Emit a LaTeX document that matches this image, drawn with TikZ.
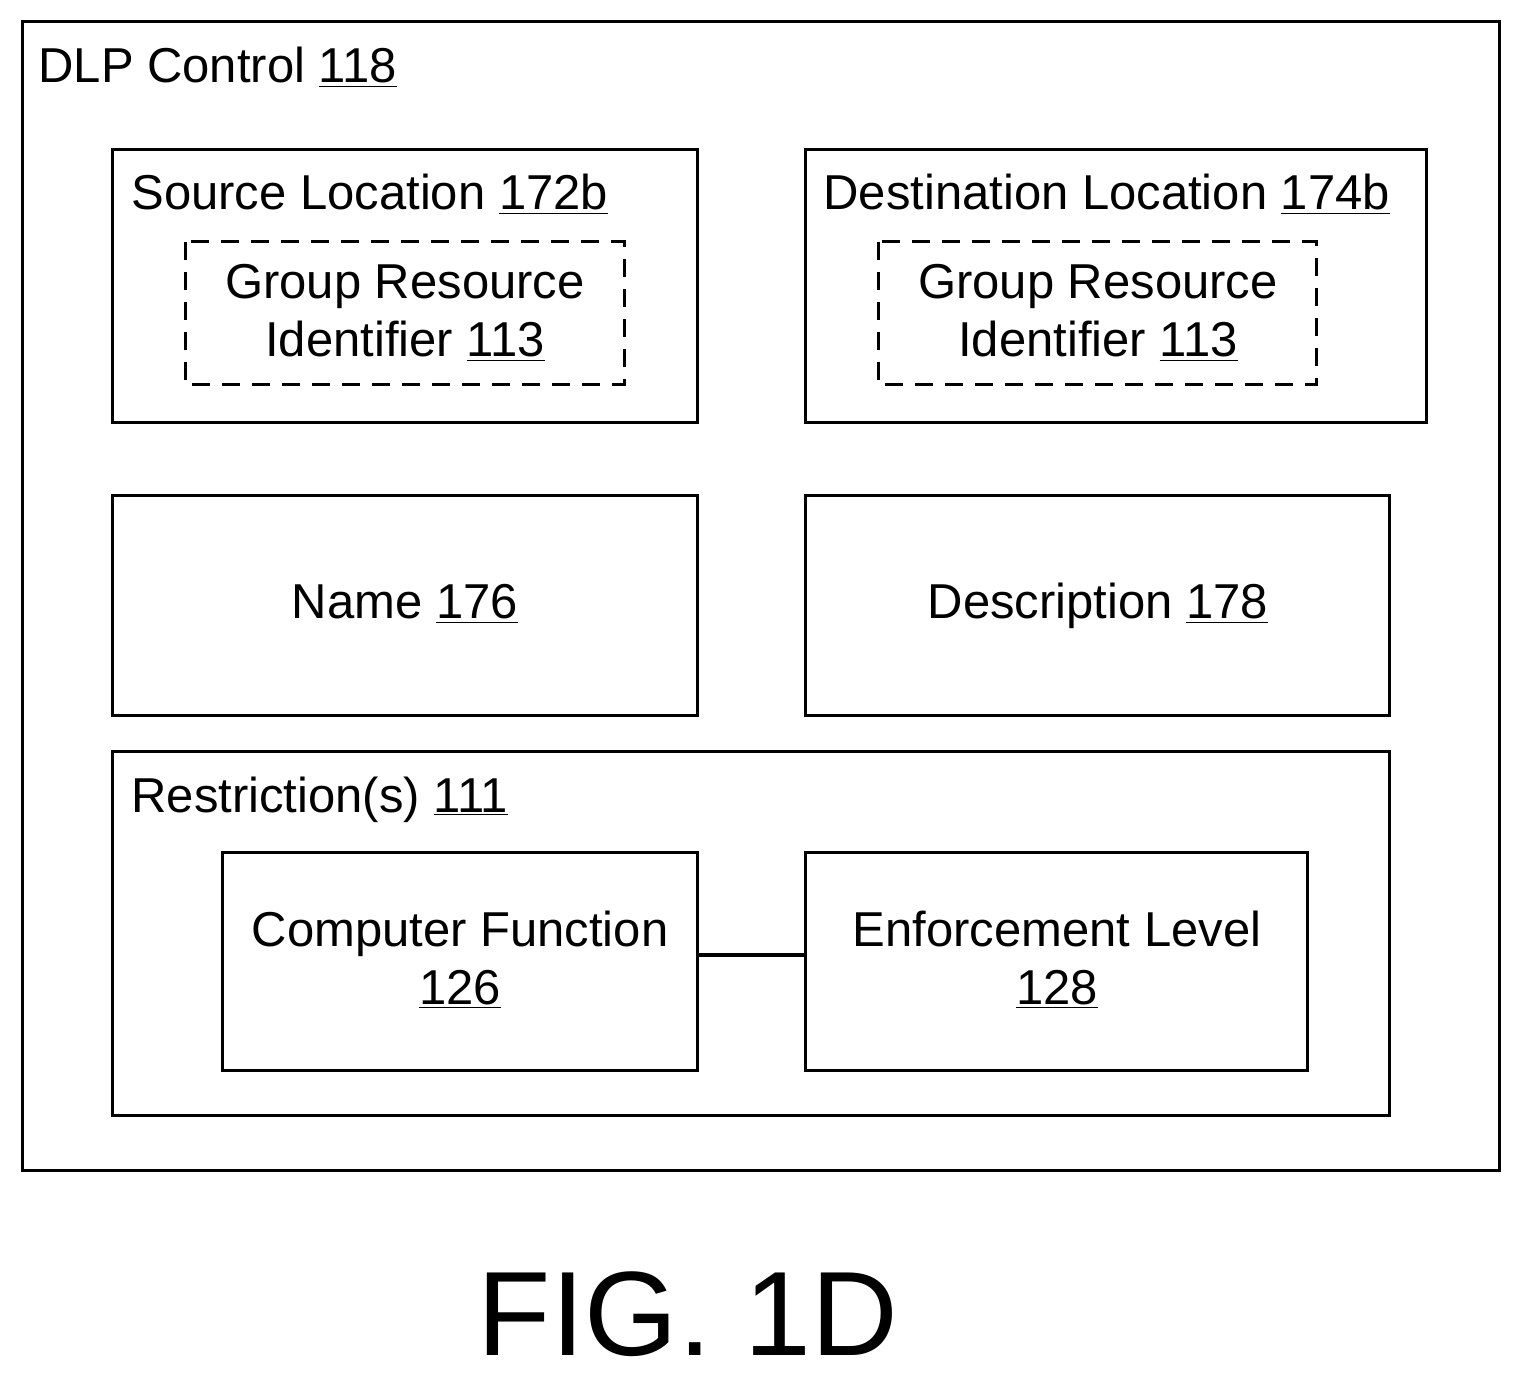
\documentclass[tikz,border=0pt]{standalone}
\usepackage{fontspec}
\setmainfont{Liberation Sans}
\begin{document}
\begin{tikzpicture}[x=0.5pt,y=-0.5pt,
  box/.style={draw,line width=1.5pt},
  dbox/.style={draw,line width=1.5pt,dash pattern=on 9pt off 6pt},
  lbl/.style={font=\fontsize{24.5}{29}\selectfont,anchor=base west,inner sep=0pt},
  ctr/.style={font=\fontsize{24.5}{29}\selectfont,anchor=base,inner sep=0pt,align=center}]
\useasboundingbox (0,0) rectangle (1521,1379);
\draw[box] (22,22) rectangle (1499,1170);
\node[lbl] (t0) at (38,83) {DLP Control \underline{118}};
\draw[box] (112,150) rectangle (697,423);
\node[lbl] (t1) at (131,210) {Source Location \underline{172b}};
\draw[dbox] (185,242) rectangle (624,385);
\node[ctr] (g1) at (405,299) {Group Resource};
\node[ctr] (g1b) at (405,357) {Identifier \underline{113}};
\draw[box] (805,150) rectangle (1426,423);
\node[lbl] (t2) at (823,210) {Destination Location \underline{174b}};
\draw[dbox] (878,242) rectangle (1316,385);
\node[ctr] (g2) at (1098,299) {Group Resource};
\node[ctr] (g2b) at (1098,357) {Identifier \underline{113}};
\draw[box] (112,496) rectangle (697,715);
\node[ctr] (nm) at (405,619) {Name \underline{176}};
\draw[box] (805,496) rectangle (1389,715);
\node[ctr] (ds) at (1098,619) {Description \underline{178}};
\draw[box] (112,751) rectangle (1389,1115);
\node[lbl] (t3) at (131,812) {Restriction(s) \underline{111}};
\draw[box] (222,852) rectangle (697,1070);
\coordinate (cfr) at (697,955);
\node[ctr] (cf) at (460,946) {Computer Function};
\node[ctr] (cfb) at (460,1004) {\underline{126}};
\draw[box] (805,852) rectangle (1307,1070);
\coordinate (efl) at (805,955);
\node[ctr] (ef) at (1057,946) {Enforcement Level};
\node[ctr] (efb) at (1057,1004) {\underline{128}};
\draw[line width=2pt] (cfr) -- (efl);
\node[font=\fontsize{60}{70}\selectfont,anchor=base,inner sep=0pt] (fig) at (688,1355) {FIG. 1D};
\end{tikzpicture}
\end{document}
